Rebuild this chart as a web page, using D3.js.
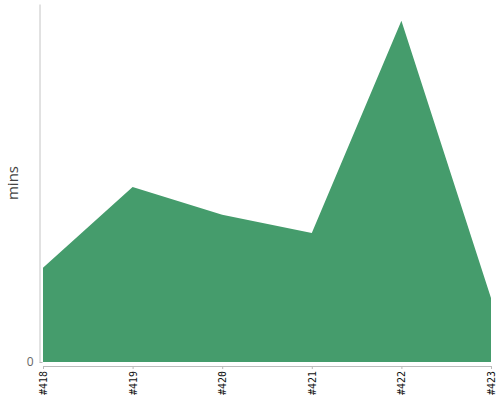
<!DOCTYPE html>
<html>
<head>
<meta charset="utf-8">
<script src="https://cdn.jsdelivr.net/npm/d3@7"></script>
<style>
  body { margin: 0; background: #fff; }
  svg { display: block; }
</style>
</head>
<body>
<svg id="chart" width="500" height="400"></svg>
<script>
const builds = ["#418", "#419", "#420", "#421", "#422", "#423"];
const minutes = [26.3, 48.9, 41.1, 36.0, 95.3, 17.9];
const yTicks = [0];
const yLabel = "mins";

const svg = d3.select("#chart");
const margin = { top: 4, right: 9, bottom: 38, left: 43 };
const W = 500, H = 400;

const x = d3.scalePoint().domain(builds).range([margin.left, W - margin.right]);
const y = d3.scaleLinear().domain([0, 100]).range([H - margin.bottom, margin.top]);

const data = builds.map((b, i) => ({ b, v: minutes[i] }));

const area = d3.area()
  .x(d => x(d.b))
  .y0(y(0))
  .y1(d => y(d.v));

svg.append("path")
  .datum(data)
  .attr("d", area)
  .attr("fill", "#459c6c");

// x axis
const xAxis = svg.append("g")
  .attr("transform", `translate(0,${H - margin.bottom + 4})`)
  .call(d3.axisBottom(x).tickSize(3).tickSizeOuter(3).tickPadding(4));
xAxis.select(".domain").attr("stroke", "#bbb");
xAxis.selectAll(".tick line").attr("stroke", "#bbb");
xAxis.selectAll(".tick text")
  .attr("font-family", "'DejaVu Sans Mono', monospace")
  .attr("font-size", 10)
  .attr("fill", "#111")
  .attr("text-anchor", "end")
  .attr("transform", "rotate(-90)")
  .attr("x", -5)
  .attr("y", 0)
  .attr("dy", "0.35em");

// y axis
const yAxis = svg.append("g")
  .attr("transform", `translate(${margin.left - 3.5},0)`)
  .call(d3.axisLeft(y).tickValues(yTicks).tickSize(-3).tickSizeOuter(0).tickPadding(6));
yAxis.select(".domain").attr("stroke", "#c4c4c4");
yAxis.selectAll(".tick line").attr("stroke", "#bbb");
yAxis.selectAll(".tick text")
  .attr("font-family", "'Open Sans', sans-serif")
  .attr("font-size", 12)
  .attr("fill", "#666");

svg.append("text")
  .attr("transform", `translate(18,${(H - margin.bottom + margin.top) / 2}) rotate(-90)`)
  .attr("text-anchor", "middle")
  .attr("font-family", "'Open Sans', sans-serif")
  .attr("font-size", 15)
  .attr("fill", "#444")
  .text(yLabel);
</script>
</body>
</html>
